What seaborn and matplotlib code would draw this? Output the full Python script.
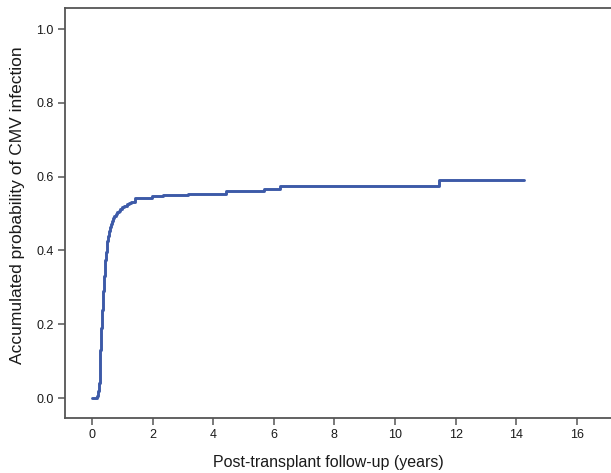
import numpy as np
import pandas as pd
import seaborn as sns
import matplotlib
matplotlib.use("Agg")
import matplotlib.pyplot as plt

# cumulative incidence curve (years, probability)
years = [0.0, 0.08, 0.18, 0.21, 0.23, 0.25, 0.265, 0.28, 0.295, 0.31, 0.325,
         0.34, 0.355, 0.37, 0.385, 0.40, 0.42, 0.44, 0.46, 0.48, 0.50, 0.52,
         0.55, 0.58, 0.62, 0.66, 0.70, 0.74, 0.78, 0.83, 0.88, 0.93, 1.00,
         1.07, 1.14, 1.21, 1.30, 1.43, 1.98, 2.33, 3.17, 4.42, 5.67, 6.20,
         11.44, 14.25]
prob = [0.0, 0.0, 0.005, 0.02, 0.04, 0.07, 0.10, 0.13, 0.16, 0.19, 0.215,
        0.24, 0.265, 0.29, 0.31, 0.33, 0.355, 0.375, 0.395, 0.41, 0.425, 0.44,
        0.452, 0.463, 0.472, 0.48, 0.487, 0.493, 0.499, 0.504, 0.508, 0.512, 0.517,
        0.521, 0.525, 0.528, 0.532, 0.541, 0.547, 0.551, 0.554, 0.560, 0.567, 0.574,
        0.592, 0.592]

x_ticks = np.arange(0, 17, 2)
y_ticks = [0.0, 0.2, 0.4, 0.6, 0.8, 1.0]

df = pd.DataFrame({"years": years, "prob": prob})

sns.set_style("white")
plt.rcParams["font.family"] = ["Liberation Sans", "DejaVu Sans"]

fig = plt.figure(figsize=(6.11, 4.73), dpi=100)
ax = fig.add_axes([65 / 611, 55 / 473, 546 / 611, 410 / 473])

sns.lineplot(data=df, x="years", y="prob", drawstyle="steps-post",
             color="#3d5aa8", linewidth=2.1, ax=ax)

ax.set_xlim(-0.89, 17.13)
ax.set_ylim(-0.054, 1.057)
ax.set_xticks(x_ticks)
ax.set_yticks(y_ticks)
ax.set_yticklabels([f"{v:.1f}" for v in y_ticks])

for side in ["left", "bottom", "top"]:
    ax.spines[side].set_color("#555555")
    ax.spines[side].set_linewidth(1.3)
ax.spines["right"].set_visible(False)

ax.tick_params(axis="both", which="major", direction="out", length=5,
               width=1.1, color="#555555", labelsize=9, labelcolor="#1a1a1a",
               left=True, bottom=True, pad=3)

ax.set_xlabel("Post-transplant follow-up (years)", fontsize=11.5, color="#1a1a1a")
ax.set_ylabel("Accumulated probability of CMV infection", fontsize=12.5, color="#1a1a1a")
ax.xaxis.label.set_va("center")
ax.yaxis.label.set_va("center")
ax.xaxis.set_label_coords((328 - 65) / 546, (418 - 462) / 410)
ax.yaxis.set_label_coords((18 - 65) / 546, (418 - 205) / 410)

fig.savefig("out.png", dpi=100)
